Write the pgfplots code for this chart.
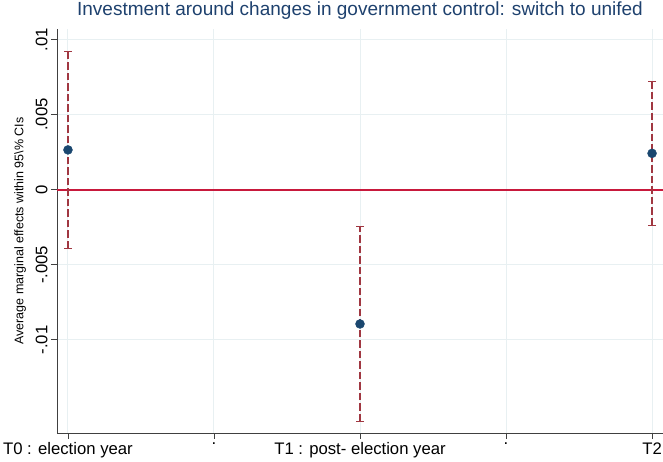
\documentclass[border=0pt]{standalone}
\usepackage{fontspec}
\setmainfont{Liberation Sans}
\usepackage{pgfplots}
\pgfplotsset{compat=1.18}
\definecolor{stnavy}{RGB}{26,71,111}
\definecolor{sttitle}{RGB}{30,65,110}
\definecolor{stmaroon}{RGB}{160,55,65}
\definecolor{zerored}{RGB}{200,25,60}
\definecolor{stgrid}{RGB}{232,240,242}
\begin{document}
\begin{tikzpicture}[x=1pt,y=1pt]
\useasboundingbox (0,0) rectangle (663,462);
\begin{axis}[
  at={(57pt,29pt)}, anchor=south west,
  scale only axis, width=606pt, height=404pt,
  xmin=-0.075, xmax=4.075, ymin=-0.0162, ymax=0.0107,
  axis x line*=bottom, axis y line*=left,
  axis line style={-, black!75, line width=0.9pt},
  xtick={0,1,2,3,4},
  xticklabels={T0 : election year, ., T1 : post- election year, ., T2},
  ytick={-0.01,-0.005,0,0.005,0.01},
  yticklabels={-.01,-.005,0,.005,.01},
  scaled y ticks=false,
  tick align=outside, major tick length=6pt,
  tick style={black!75, line width=0.9pt},
  grid=major, major grid style={stgrid, line width=1pt},
  xticklabel style={font=\fontsize{16.7}{20}\selectfont},
  yticklabel style={rotate=90, anchor=south, font=\fontsize{16.7}{20}\selectfont},
  ylabel={Average marginal effects within 95\textbackslash\% CIs},
  ylabel style={at={(axis description cs:-0.061,0.5)}, anchor=center, font=\fontsize{12.5}{15}\selectfont},
  title={Investment around changes in government control: switch to unifed},
  title style={at={(axis description cs:0.5,1.0197)}, anchor=base, font=\fontsize{19}{22}\selectfont, color=sttitle},
  clip=false,
]
\addplot[draw=zerored, line width=2pt, mark=none] coordinates {(-0.075,0) (4.075,0)};
\addplot[stmaroon, line width=1.2pt, dash pattern=on 7.5pt off 3pt] coordinates {(0,-0.0039) (0,0.0092)};
\addplot[stmaroon, line width=1.2pt, dash pattern=on 7.5pt off 3pt] coordinates {(2,-0.01543) (2,-0.00245)};
\addplot[stmaroon, line width=1.2pt, dash pattern=on 7.5pt off 3pt] coordinates {(4,-0.00238) (4,0.00722)};
\addplot[only marks, mark=-, mark size=4pt, stmaroon, mark options={solid, line width=1.2pt}] coordinates {(0,-0.0039) (0,0.0092) (2,-0.01543) (2,-0.00245) (4,-0.00238) (4,0.00722)};
\addplot[only marks, mark=*, mark size=4.5pt, stnavy, mark options={fill=stnavy, draw=stnavy}] coordinates {(0,0.00265) (2,-0.00894) (4,0.00242)};
\end{axis}
\end{tikzpicture}
\end{document}
